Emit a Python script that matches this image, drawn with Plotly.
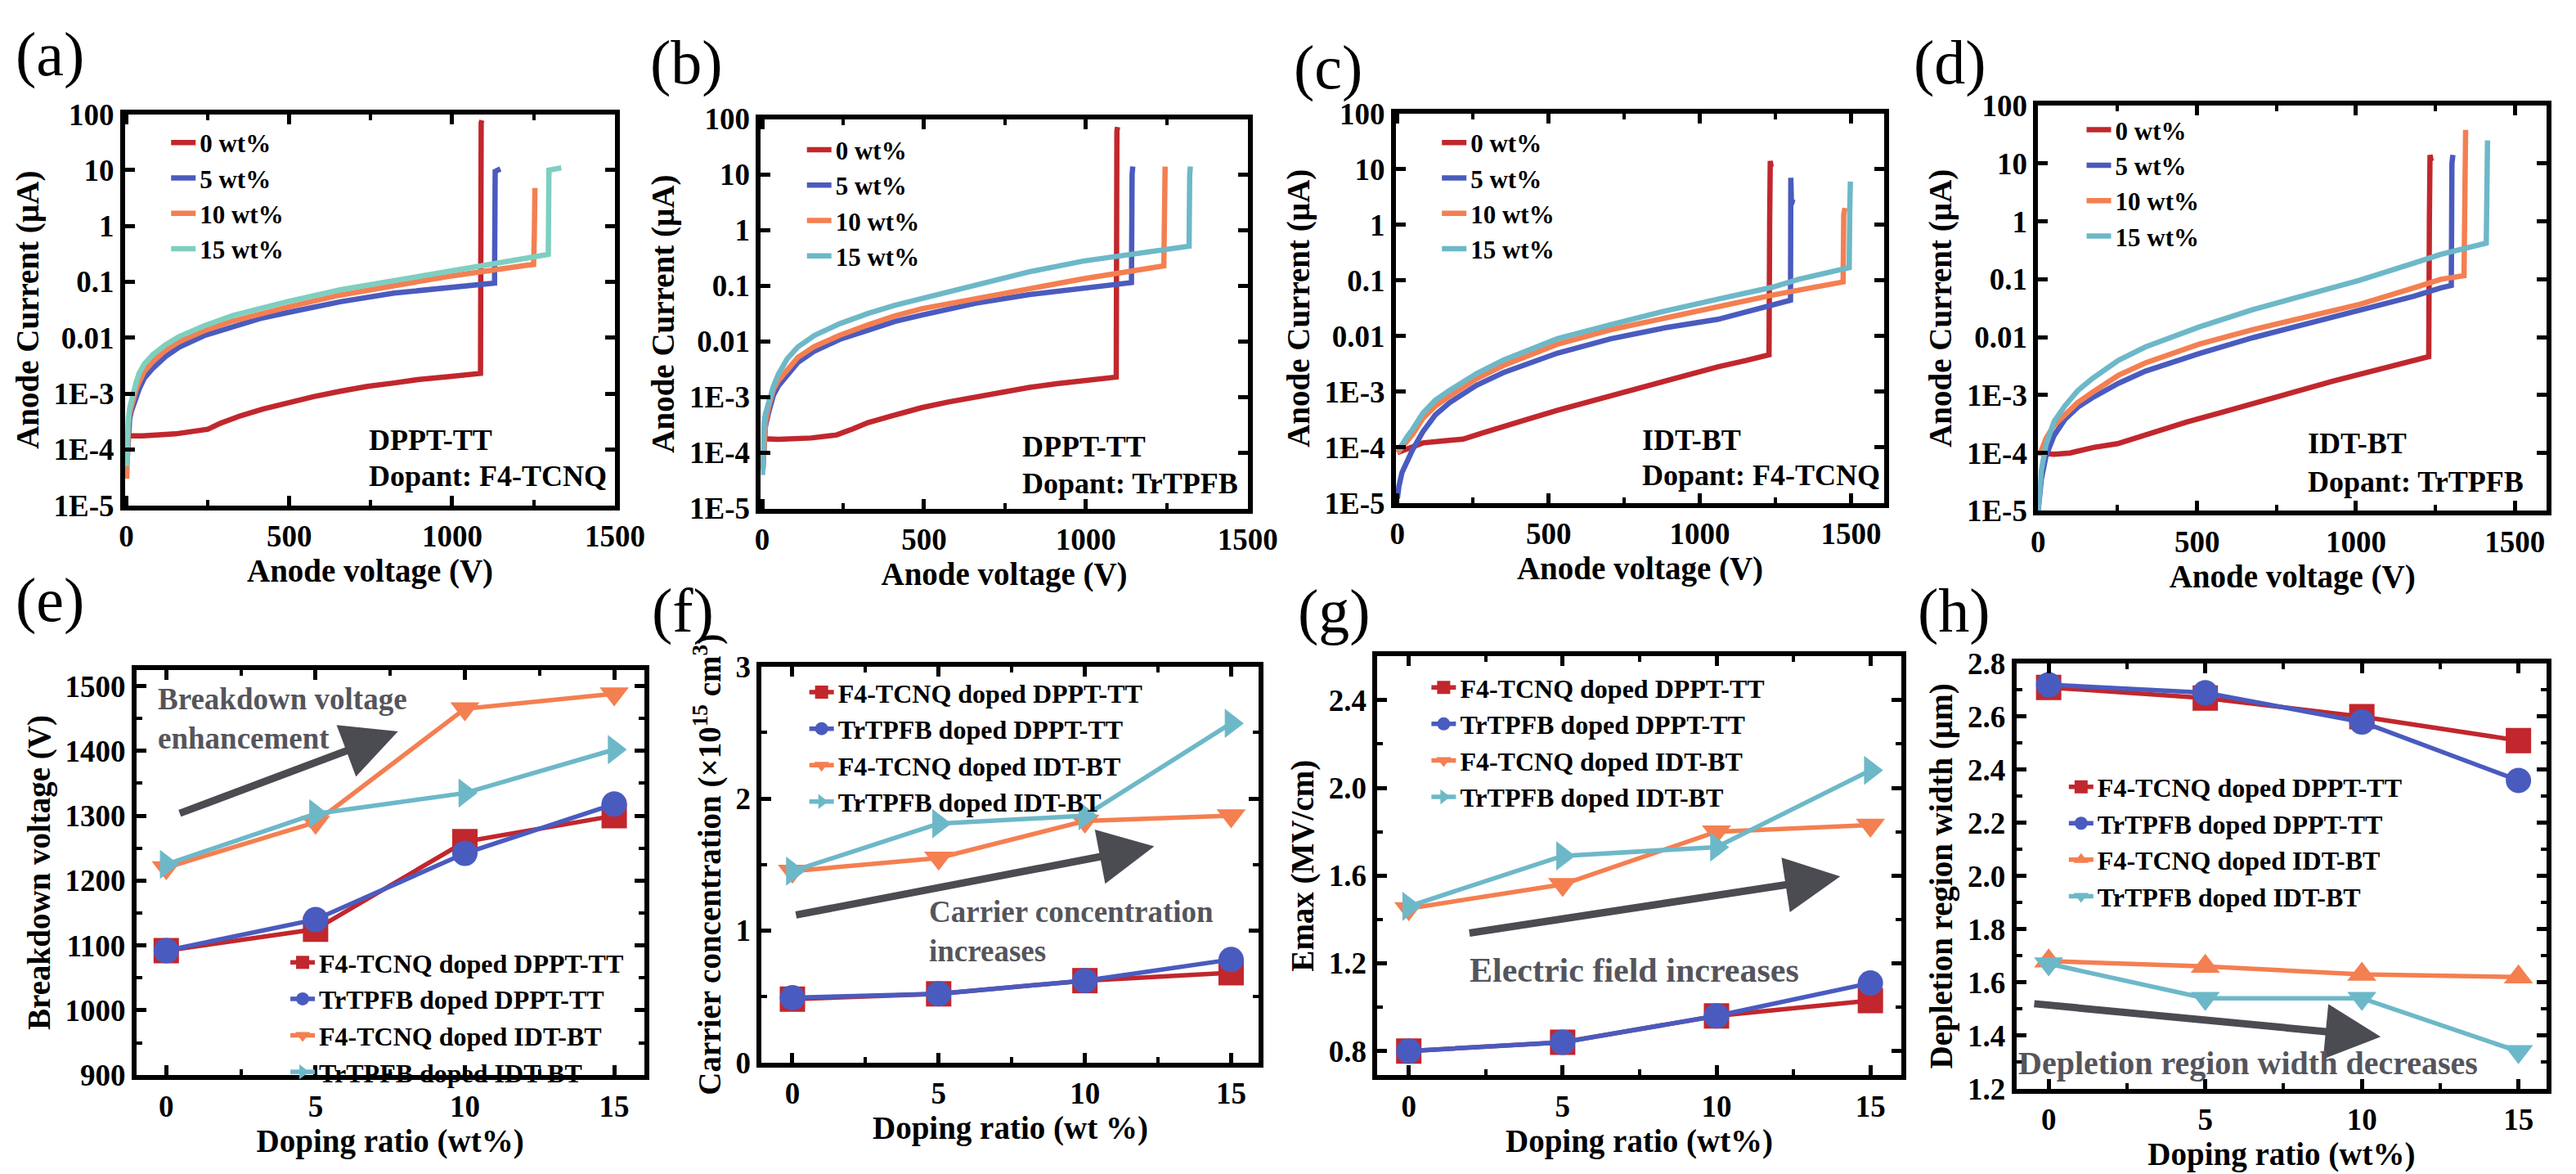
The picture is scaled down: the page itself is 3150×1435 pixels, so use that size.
import plotly.graph_objects as go

W, H = 3150, 1435
SERIF = "Liberation Serif"

RED = "#C1272D"
BLUE = "#4A5BBF"
ORANGE = "#F47F51"
MINT = "#7ECFC0"
CYAN = "#6DB8C8"
GREY = "#4B4B52"

# ---------------- I-V curves (current in uA) ----------------
iv_names = ["0 wt%", "5 wt%", "10 wt%", "15 wt%"]
iv_ticks = [1e-5, 1e-4, 1e-3, 1e-2, 1e-1, 1, 10, 100]
iv_ticktext = ["1E-5", "1E-4", "1E-3", "0.01", "0.1", "1", "10", "100"]

# (a) DPPT-TT, F4-TCNQ
a_v0 = [5, 50, 150, 250, 286, 350, 420, 492, 574, 656, 740, 821, 900, 986, 1087, 1089, 1091]
a_i0 = [1.75e-4, 1.75e-4, 1.9e-4, 2.3e-4, 2.9e-4, 4e-4, 5.3e-4, 6.8e-4, 8.8e-4, 1.1e-3, 1.35e-3, 1.55e-3, 1.8e-3, 2.0e-3, 2.3e-3, 70, 78]
a_v1 = [2, 5, 10, 15, 22, 30, 39, 55, 80, 120, 162, 240, 327, 410, 492, 656, 821, 986, 1130, 1132, 1140, 1148]
a_i1 = [6e-5, 1.8e-4, 3.5e-4, 4.8e-4, 6.5e-4, 9e-4, 1.2e-3, 1.9e-3, 2.8e-3, 4.6e-3, 6.8e-3, 0.011, 0.016, 0.022, 0.028, 0.044, 0.063, 0.080, 0.095, 9.5, 10, 10.5]
a_v2 = [1, 3, 6, 10, 15, 22, 30, 39, 55, 80, 120, 162, 240, 327, 410, 492, 656, 821, 986, 1233, 1250, 1252, 1254]
a_i2 = [3e-5, 1.3e-4, 2.8e-4, 4.5e-4, 6e-4, 8e-4, 1.2e-3, 1.6e-3, 2.5e-3, 3.7e-3, 6e-3, 8.5e-3, 0.0135, 0.020, 0.027, 0.035, 0.058, 0.085, 0.125, 0.20, 0.205, 0.6, 4.8]
a_v3 = [1, 3, 6, 10, 15, 22, 30, 39, 55, 80, 120, 162, 240, 327, 410, 492, 656, 821, 986, 1085, 1233, 1295, 1297, 1310, 1335]
a_i3 = [5e-5, 1.5e-4, 3.5e-4, 5.5e-4, 7.5e-4, 1.0e-3, 1.6e-3, 2.3e-3, 3.4e-3, 4.9e-3, 7.5e-3, 0.0105, 0.0165, 0.025, 0.034, 0.044, 0.072, 0.106, 0.155, 0.195, 0.28, 0.31, 10, 10.3, 11]

# (b) DPPT-TT, TrTPFB
b_v0 = [3, 50, 150, 230, 280, 327, 400, 493, 575, 660, 740, 826, 910, 992, 1094, 1096, 1098]
b_i0 = [1.8e-4, 1.75e-4, 1.85e-4, 2.1e-4, 2.7e-4, 3.5e-4, 4.6e-4, 6.5e-4, 8.2e-4, 1.0e-3, 1.25e-3, 1.5e-3, 1.75e-3, 2.0e-3, 2.3e-3, 60, 72]
b_v1 = [2, 5, 10, 20, 35, 50, 77, 110, 162, 240, 327, 410, 493, 660, 826, 992, 1141, 1143, 1145]
b_i1 = [5e-5, 1.5e-4, 3e-4, 5.4e-4, 1.1e-3, 1.6e-3, 2.5e-3, 4.2e-3, 6.8e-3, 0.011, 0.016, 0.023, 0.030, 0.049, 0.070, 0.093, 0.115, 10, 14]
b_v2 = [2, 5, 10, 20, 35, 50, 77, 110, 162, 240, 327, 410, 493, 660, 826, 992, 1241, 1243, 1245]
b_i2 = [5e-5, 1.6e-4, 3.5e-4, 6.8e-4, 1.4e-3, 2e-3, 3.1e-3, 5.2e-3, 8.2e-3, 0.013, 0.02, 0.029, 0.039, 0.059, 0.093, 0.135, 0.23, 10, 14]
b_v3 = [1, 3, 6, 10, 20, 35, 50, 77, 110, 162, 240, 327, 410, 493, 660, 826, 992, 1241, 1319, 1321, 1323]
b_i3 = [4e-5, 1.6e-4, 3.5e-4, 5e-4, 8e-4, 1.6e-3, 2.6e-3, 4.9e-3, 8e-3, 0.013, 0.021, 0.032, 0.045, 0.059, 0.10, 0.18, 0.28, 0.46, 0.52, 10, 14]

# (c) IDT-BT, F4-TCNQ
c_v0 = [0, 40, 84, 150, 217, 280, 350, 440, 528, 615, 705, 795, 883, 970, 1060, 1150, 1229, 1231, 1233, 1236]
c_i0 = [8e-5, 9.5e-5, 1.2e-4, 1.3e-4, 1.4e-4, 1.8e-4, 2.4e-4, 3.3e-4, 4.6e-4, 6.2e-4, 8.3e-4, 1.13e-3, 1.54e-3, 2.1e-3, 2.8e-3, 3.6e-3, 4.6e-3, 1.0, 14, 11]
c_v1 = [0, 5, 15, 30, 50, 84, 125, 172, 261, 350, 528, 705, 883, 1060, 1238, 1300, 1301, 1303, 1314]
c_i1 = [1.2e-5, 2e-5, 3.5e-5, 5.5e-5, 9e-5, 1.9e-4, 3.8e-4, 6.3e-4, 1.3e-3, 2.2e-3, 4.9e-3, 8.9e-3, 0.014, 0.020, 0.035, 0.044, 7, 2.6, 2.5]
c_v2 = [0, 15, 30, 50, 84, 125, 172, 261, 350, 528, 705, 883, 1060, 1238, 1327, 1400, 1474, 1476, 1480]
c_i2 = [8e-5, 1e-4, 1.3e-4, 1.7e-4, 3.3e-4, 5.5e-4, 8.3e-4, 1.7e-3, 2.95e-3, 7.1e-3, 0.013, 0.021, 0.035, 0.054, 0.067, 0.08, 0.094, 1.5, 2.0]
c_v3 = [0, 15, 30, 50, 84, 125, 172, 261, 350, 528, 705, 883, 1060, 1238, 1327, 1410, 1494, 1496, 1498]
c_i3 = [9e-5, 1.1e-4, 1.5e-4, 2.1e-4, 4.1e-4, 7e-4, 1.05e-3, 2.1e-3, 3.7e-3, 8.9e-3, 0.016, 0.028, 0.046, 0.075, 0.105, 0.135, 0.17, 2, 6]

# (d) IDT-BT, TrTPFB
d_v0 = [0, 50, 100, 175, 250, 350, 465, 570, 676, 760, 845, 930, 1013, 1110, 1216, 1229, 1231, 1233, 1237]
d_i0 = [1e-4, 9.5e-5, 1e-4, 1.25e-4, 1.45e-4, 2.2e-4, 3.4e-4, 4.9e-4, 7.2e-4, 9.8e-4, 1.3e-3, 1.75e-3, 2.3e-3, 3.2e-3, 4.4e-3, 4.6e-3, 1.0, 14, 11]
d_v1 = [0, 5, 10, 25, 50, 84, 125, 169, 253, 338, 507, 676, 845, 1013, 1182, 1267, 1300, 1302, 1305]
d_i1 = [1e-5, 2e-5, 3.5e-5, 9e-5, 2e-4, 3.8e-4, 6.2e-4, 8.9e-4, 1.6e-3, 2.6e-3, 5.2e-3, 9.8e-3, 0.017, 0.029, 0.051, 0.071, 0.078, 10, 14]
d_v2 = [0, 5, 10, 25, 50, 84, 125, 169, 253, 338, 507, 676, 845, 1013, 1182, 1267, 1340, 1342, 1345]
d_i2 = [1e-4, 1e-4, 1.1e-4, 1.8e-4, 3e-4, 4.7e-4, 7.5e-4, 1.1e-3, 2.2e-3, 3.6e-3, 7.6e-3, 0.0135, 0.022, 0.037, 0.071, 0.10, 0.115, 10, 38]
d_v3 = [0, 5, 10, 25, 50, 84, 125, 169, 253, 338, 507, 676, 845, 1013, 1182, 1267, 1410, 1412, 1414]
d_i3 = [1e-5, 3e-5, 5e-5, 1.4e-4, 3.5e-4, 6.5e-4, 1.2e-3, 1.9e-3, 4e-3, 6.8e-3, 0.015, 0.030, 0.054, 0.097, 0.19, 0.27, 0.42, 10, 25]

# ---------------- doping ratio panels ----------------
doping = [0, 5, 10, 15]
series_names = ["F4-TCNQ doped DPPT-TT", "TrTPFB doped DPPT-TT",
                "F4-TCNQ doped IDT-BT", "TrTPFB doped IDT-BT"]

bv_f4_dppt = [1092, 1125, 1260, 1300]
bv_tr_dppt = [1092, 1140, 1242, 1318]
bv_f4_idt = [1220, 1290, 1465, 1488]
bv_tr_idt = [1225, 1303, 1335, 1402]

cc_f4_dppt = [0.48, 0.52, 0.62, 0.68]
cc_tr_dppt = [0.49, 0.52, 0.62, 0.78]
cc_f4_idt = [1.45, 1.55, 1.83, 1.87]
cc_tr_idt = [1.45, 1.81, 1.87, 2.57]

em_f4_dppt = [0.80, 0.84, 0.96, 1.03]
em_tr_dppt = [0.80, 0.84, 0.96, 1.11]
em_f4_idt = [1.45, 1.56, 1.80, 1.83]
em_tr_idt = [1.46, 1.69, 1.73, 2.08]

dw_f4_dppt = [2.71, 2.67, 2.60, 2.51]
dw_tr_dppt = [2.72, 2.69, 2.58, 2.36]
dw_f4_idt = [1.68, 1.66, 1.63, 1.62]
dw_tr_idt = [1.67, 1.54, 1.54, 1.34]

# plot boxes in pixels: left, right, top, bottom
boxes = [
    (138, 746, 115, 607), (927, 1531, 121, 611), (1715, 2321, 114, 604), (2512, 3143, 104, 614),
    (152, 782, 814, 1324), (928, 1545, 810, 1308), (1692, 2342, 797, 1324), (2485, 3143, 806, 1341),
]

fig = go.Figure()

iv_sets = [
    [(a_v0, a_i0), (a_v1, a_i1), (a_v2, a_i2), (a_v3, a_i3)],
    [(b_v0, b_i0), (b_v1, b_i1), (b_v2, b_i2), (b_v3, b_i3)],
    [(c_v0, c_i0), (c_v1, c_i1), (c_v2, c_i2), (c_v3, c_i3)],
    [(d_v0, d_i0), (d_v1, d_i1), (d_v2, d_i2), (d_v3, d_i3)],
]
for p, curves in enumerate(iv_sets):
    cols = [RED, BLUE, ORANGE, MINT if p == 0 else CYAN]
    sfx = "" if p == 0 else str(p + 1)
    for k, (v, i) in enumerate(curves):
        fig.add_trace(go.Scatter(x=v, y=i, mode="lines", name=iv_names[k],
                                 line=dict(color=cols[k], width=6.5),
                                 xaxis="x" + sfx, yaxis="y" + sfx,
                                 legend="legend" + sfx))

bottom_sets = [
    [bv_f4_dppt, bv_tr_dppt, bv_f4_idt, bv_tr_idt],
    [cc_f4_dppt, cc_tr_dppt, cc_f4_idt, cc_tr_idt],
    [em_f4_dppt, em_tr_dppt, em_f4_idt, em_tr_idt],
    [dw_f4_dppt, dw_tr_dppt, dw_f4_idt, dw_tr_idt],
]
for p, sets in enumerate(bottom_sets):
    n = p + 5
    if n == 8:
        syms = ["square", "circle", "triangle-up", "triangle-down"]
    else:
        syms = ["square", "circle", "triangle-down", "triangle-right"]
    cols = [RED, BLUE, ORANGE, CYAN]
    for k, vals in enumerate(sets):
        fig.add_trace(go.Scatter(x=doping, y=vals, mode="lines+markers", name=series_names[k],
                                 line=dict(color=cols[k], width=5.5),
                                 marker=dict(symbol=syms[k], size=31, color=cols[k]),
                                 xaxis="x%d" % n, yaxis="y%d" % n, legend="legend%d" % n))

tick_font = dict(family=SERIF, size=37, color="black", weight="bold")
title_font = dict(family=SERIF, size=39, color="black", weight="bold")
base_axis = dict(showline=True, linewidth=6, linecolor="black", mirror="allticks",
                 ticks="inside", ticklen=12, tickwidth=5, tickcolor="black",
                 showgrid=False, zeroline=False, tickfont=tick_font)

layout = dict(width=W, height=H, margin=dict(l=0, r=0, t=0, b=0),
              paper_bgcolor="white", plot_bgcolor="white", showlegend=True)

x_ranges = [[-4, 1500], [-4, 1500], [-5, 1610], [0, 1600], [-1, 16], [-1.05, 15.95], [-1.02, 16], [-1.03, 15.9]]
y_titles = ["Anode Current (µA)"] * 4 + [
    "Breakdown voltage (V)",
    "Carrier concentration (×10<sup>15</sup> cm<sup>3</sup>)",
    "Emax (MV/cm)",
    "Depletion region width (µm)",
]
x_titles = ["Anode voltage (V)"] * 4 + ["Doping ratio (wt%)", "Doping ratio (wt %)",
                                        "Doping ratio (wt%)", "Doping ratio (wt%)"]
y_specs = [
    None, None, None, None,
    dict(range=[900, 1525], dtick=100, minor=50, fmt="d"),
    dict(range=[0, 3], dtick=1, minor=0.5, fmt="d"),
    dict(range=[0.69, 2.6], dtick=0.4, minor=0.2, fmt=".1f", tick0=0.8),
    dict(range=[1.2, 2.8], dtick=0.2, minor=0.1, fmt=".1f"),
]

for idx, (l, r, t, b) in enumerate(boxes):
    n = idx + 1
    sfx = "" if n == 1 else str(n)
    xa = dict(base_axis, domain=[l / W, r / W], anchor="y" + sfx, range=x_ranges[idx],
              title=dict(text=x_titles[idx], font=title_font, standoff=2))
    ya = dict(base_axis, domain=[1 - b / H, 1 - t / H], anchor="x" + sfx,
              title=dict(text=y_titles[idx], font=title_font, standoff=8))
    if n <= 4:
        xa.update(tickmode="array", tickvals=[0, 500, 1000, 1500],
                  minor=dict(ticks="inside", ticklen=7, tickwidth=4, tickcolor="black",
                             tickvals=[250, 750, 1250]))
        ya.update(type="log", range=[-5, 2], tickmode="array",
                  tickvals=iv_ticks, ticktext=iv_ticktext)
    else:
        xa.update(tickmode="array", tickvals=doping,
                  minor=dict(ticks="inside", ticklen=7, tickwidth=4, tickcolor="black",
                             tickvals=[2.5, 7.5, 12.5]))
        s = y_specs[idx]
        ya.update(range=s["range"], dtick=s["dtick"], tick0=s.get("tick0", 0), tickformat=s["fmt"],
                  minor=dict(ticks="inside", ticklen=7, tickwidth=4, tickcolor="black",
                             dtick=s["minor"]))
    layout["xaxis" + sfx] = xa
    layout["yaxis" + sfx] = ya

# legends: text start x (px), top y (px)
leg_pos = [(232, 123), (1021, 132), (1809, 123), (2609, 107),
           (380, 1154), (1024, 814), (1796, 808), (2587, 933)]
for idx, (lx, ty) in enumerate(leg_pos):
    n = idx + 1
    key = "legend" if n == 1 else "legend%d" % n
    fs = 31 if n <= 4 else 32
    layout[key] = dict(x=(lx - 42) / W, y=1 - ty / H, xanchor="left", yanchor="top",
                       bgcolor="rgba(0,0,0,0)", borderwidth=0, tracegroupgap=0,
                       font=dict(family=SERIF, size=fs, color="black", weight="bold"))

fig.update_layout(**layout)

ann = []
# panel letters
letters = [("(a)", 0, 40), ("(b)", 788, 50), ("(c)", 1586, 56), ("(d)", 2355, 50),
           ("(e)", 0, 726), ("(f)", 790, 740), ("(g)", 1591, 741), ("(h)", 2360, 740)]
for txt, lx, cy in letters:
    ann.append(dict(text=txt, x=lx / W, y=1 - cy / H, xref="paper", yref="paper",
                    xanchor="left", yanchor="middle", showarrow=False,
                    font=dict(family=SERIF, size=76, color="black")))

# material / dopant labels
mat_labels = [("DPPT-TT", "Dopant: F4-TCNQ", 438, 525, 570),
              ("DPPT-TT", "Dopant: TrTPFB", 1249, 533, 580),
              ("IDT-BT", "Dopant: F4-TCNQ", 2018, 525, 569),
              ("IDT-BT", "Dopant: TrTPFB", 2845, 529, 578)]
for m, d, lx, y1, y2 in mat_labels:
    for txt, cy in ((m, y1), (d, y2)):
        ann.append(dict(text=txt, x=lx / W, y=1 - cy / H, xref="paper", yref="paper",
                        xanchor="left", yanchor="middle", showarrow=False,
                        font=dict(family=SERIF, size=36, color="black", weight="bold")))

# trend arrows and notes
arrows = [(5, 0.41, 1303, 7.76, 1430), (6, 0.08, 1.116, 12.37, 1.638),
          (7, 1.93, 1.337, 14.02, 1.596), (8, -0.5, 1.52, 10.6, 1.395)]
for n, x0, y0, x1, y1 in arrows:
    ann.append(dict(x=x1, y=y1, ax=x0, ay=y0, xref="x%d" % n, yref="y%d" % n,
                    axref="x%d" % n, ayref="y%d" % n, text="", showarrow=True,
                    arrowhead=2, arrowsize=1.5, arrowwidth=9, arrowcolor=GREY, standoff=0))

notes = [(5, "Breakdown voltage<br>enhancement", -0.34, 1450, "left", 37),
         (6, "Carrier concentration<br>increases", 4.62, 0.99, "left", 37),
         (7, "Electric field increases", 7.34, 1.167, "center", 42),
         (8, "Depletion region width decreases", 6.36, 1.297, "center", 40)]
for n, txt, x, y, anc, fs in notes:
    ann.append(dict(text=txt, x=x, y=y, xref="x%d" % n, yref="y%d" % n, xanchor=anc,
                    yanchor="middle", align="left", showarrow=False,
                    font=dict(family=SERIF, size=fs, color="#55555C", weight="bold")))

fig.update_layout(annotations=ann)
fig.write_html("out.html")
